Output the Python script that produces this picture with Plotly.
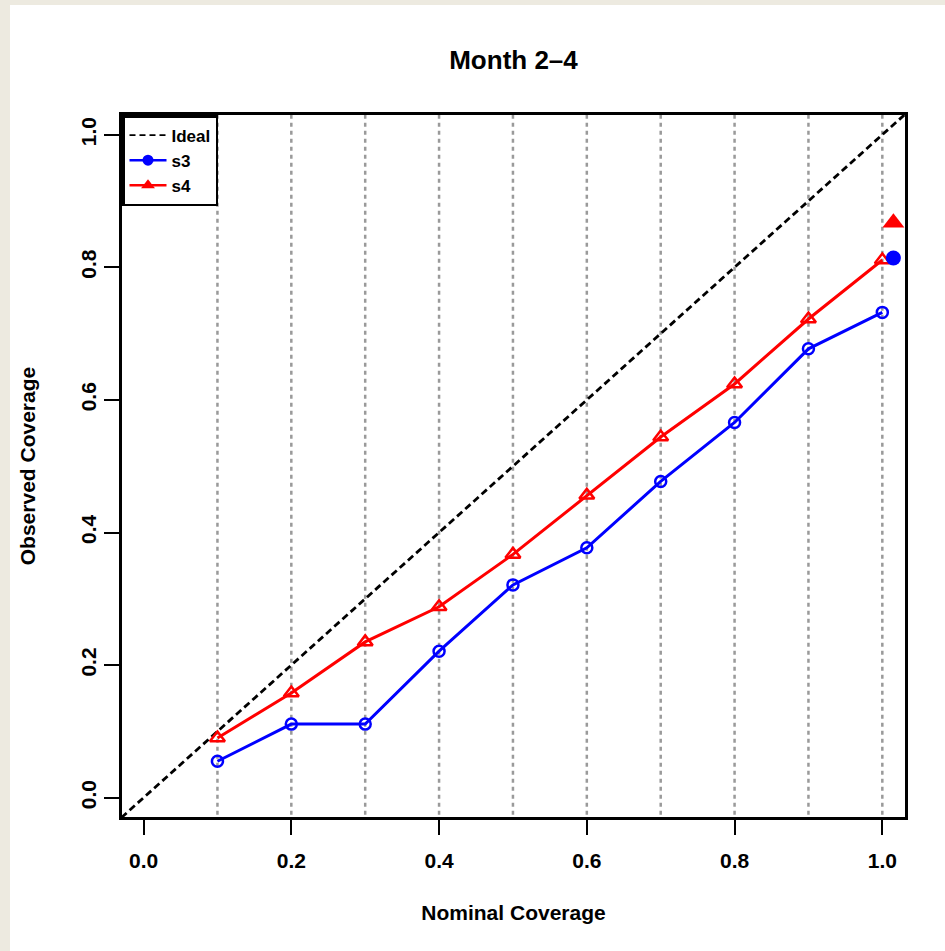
import plotly.graph_objects as go

# ---- data ----
nominal = [0.1, 0.2, 0.3, 0.4, 0.5, 0.6, 0.7, 0.8, 0.9, 1.0]
s3_obs = [0.055, 0.111, 0.111, 0.221, 0.321, 0.377, 0.477, 0.566, 0.677, 0.732]
s4_obs = [0.090, 0.158, 0.235, 0.288, 0.367, 0.456, 0.544, 0.624, 0.722, 0.811]
extra_x = [1.015]
s3_extra = [0.814]
s4_extra = [0.867]
ideal_ends = [-0.03, 1.03]
tick_vals = [0.0, 0.2, 0.4, 0.6, 0.8, 1.0]
tick_text = ["0.0", "0.2", "0.4", "0.6", "0.8", "1.0"]

FONT = "Liberation Sans, Arial, Helvetica, sans-serif"
BLUE = "#0000FF"
RED = "#FF0000"

fig = go.Figure()

# vertical dotted reference lines
vx, vy = [], []
for v in nominal:
    vx += [v, v, None]
    vy += [-0.05, 1.05, None]
fig.add_trace(go.Scatter(x=vx, y=vy, mode="lines", showlegend=False, hoverinfo="skip",
                         line=dict(color="#9A9A9A", width=2.5, dash="4px,4px")))

# ideal line
fig.add_trace(go.Scatter(x=ideal_ends, y=ideal_ends, mode="lines", showlegend=False,
                         line=dict(color="black", width=2.8, dash="7px,4px")))

# series
fig.add_trace(go.Scatter(x=nominal, y=s3_obs, mode="lines+markers", showlegend=False,
                         line=dict(color=BLUE, width=3),
                         marker=dict(symbol="circle-open", size=11, color=BLUE, line=dict(width=2.5, color=BLUE))))
fig.add_trace(go.Scatter(x=nominal, y=s4_obs, mode="lines+markers", showlegend=False,
                         line=dict(color=RED, width=3),
                         marker=dict(symbol="triangle-up-open", size=13, color=RED, line=dict(width=2.5, color=RED))))

# filled extra markers
fig.add_trace(go.Scatter(x=extra_x, y=s4_extra, mode="markers", showlegend=False,
                         marker=dict(symbol="triangle-up", size=19, color=RED)))
fig.add_trace(go.Scatter(x=extra_x, y=s3_extra, mode="markers", showlegend=False,
                         marker=dict(symbol="circle", size=15, color=BLUE)))

# legend-only traces
fig.add_trace(go.Scatter(x=[None], y=[None], mode="lines", name="<b>Ideal</b>",
                         line=dict(color="black", width=1.8, dash="6px,4px")))
fig.add_trace(go.Scatter(x=[None], y=[None], mode="lines+markers", name="<b>s3</b>",
                         line=dict(color=BLUE, width=2.5), marker=dict(symbol="circle", size=11, color=BLUE)))
fig.add_trace(go.Scatter(x=[None], y=[None], mode="lines+markers", name="<b>s4</b>",
                         line=dict(color=RED, width=2.5), marker=dict(symbol="triangle-up", size=12, color=RED)))

axis_common = dict(
    showgrid=False, zeroline=False, showline=True, linecolor="black", linewidth=2.5,
    mirror=True, ticks="outside", ticklen=15, tickwidth=2.2, tickcolor="black",
    tickvals=tick_vals, ticktext=["<b>%s</b>" % t for t in tick_text],
    tickfont=dict(family=FONT, size=21, color="black"),
)

fig.update_xaxes(range=[-0.0292, 1.0307], ticklabelstandoff=8,
                 title=dict(text="<b>Nominal Coverage</b>", standoff=35,
                            font=dict(family=FONT, size=21, color="black")), **axis_common)
fig.update_yaxes(range=[-0.0291, 1.0297], tickangle=-90,
                 title=dict(text="<b>Observed Coverage</b>", standoff=36,
                            font=dict(family=FONT, size=21, color="black")), **axis_common)

# white panel over beige background
W, H = 945, 951
ml, mr, mt, mb = 122, 40, 115, 134
pw, ph = W - ml - mr, H - mt - mb
fig.add_shape(type="rect", xref="paper", yref="paper", layer="below",
              x0=(10 - ml) / pw, x1=(W + 5 - ml) / pw,
              y0=(H - mb - (H + 5)) / ph, y1=(H - mb - 5) / ph,
              fillcolor="white", line=dict(width=0))

fig.update_layout(
    width=W, height=H,
    margin=dict(l=ml, r=mr, t=mt, b=mb),
    paper_bgcolor="#EDEAE0", plot_bgcolor="white",
    title=dict(text="<b>Month 2–4</b>", x=0.5, xref="paper", xanchor="center",
               y=1 - 60 / H, yanchor="middle",
               font=dict(family=FONT, size=26, color="black")),
    legend=dict(x=0, y=1, xanchor="left", yanchor="top", bgcolor="white",
                bordercolor="black", borderwidth=2.5, itemwidth=37,
                font=dict(family=FONT, size=17, color="black"), tracegroupgap=0),
    font=dict(family=FONT, color="black"),
)

fig.write_html("out.html", config={"displayModeBar": False},
               post_script="document.body.style.margin='0';document.body.style.overflow='hidden';")
